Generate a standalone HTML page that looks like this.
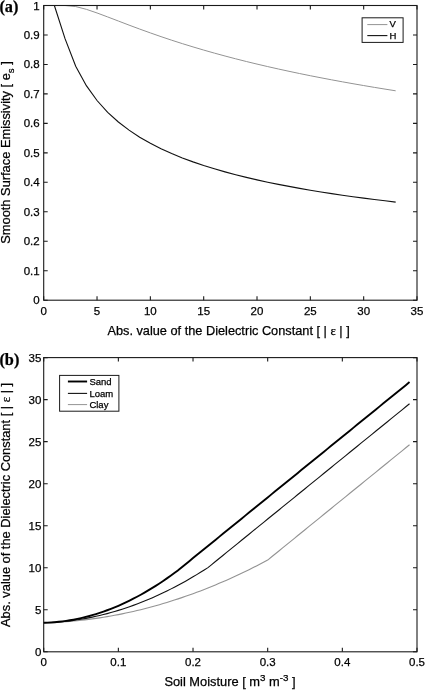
<!DOCTYPE html><html><head><meta charset="utf-8"><style>html,body{margin:0;padding:0;background:#fff;width:425px;height:690px;overflow:hidden}svg{display:block;will-change:transform}text{font-family:"Liberation Sans",sans-serif;fill:#000;stroke:#000;stroke-width:0.25px}</style></head><body>
<svg width="425" height="690" viewBox="0 0 425 690">
<polyline fill="none" stroke="#939393" stroke-width="1" points="54.37,5.50 65.03,5.50 75.70,6.56 86.36,9.33 97.03,12.96 107.69,16.94 118.36,21.03 129.03,25.10 139.69,29.07 150.36,32.92 161.02,36.64 171.69,40.21 182.35,43.63 193.02,46.92 203.69,50.07 214.35,53.10 225.02,56.01 235.68,58.81 246.35,61.50 257.01,64.09 267.68,66.58 278.35,68.99 289.01,71.31 299.68,73.55 310.34,75.72 321.01,77.81 331.67,79.84 342.34,81.81 353.01,83.71 363.67,85.56 374.34,87.36 385.00,89.10 395.67,90.80"/>
<polyline fill="none" stroke="#111" stroke-width="1.1" points="54.37,5.50 65.03,38.68 75.70,66.15 86.36,85.69 97.03,100.51 107.69,112.29 118.36,121.97 129.03,130.14 139.69,137.16 150.36,143.30 161.02,148.72 171.69,153.56 182.35,157.92 193.02,161.88 203.69,165.50 214.35,168.82 225.02,171.89 235.68,174.73 246.35,177.38 257.01,179.86 267.68,182.18 278.35,184.36 289.01,186.41 299.68,188.36 310.34,190.19 321.01,191.94 331.67,193.60 342.34,195.17 353.01,196.68 363.67,198.12 374.34,199.50 385.00,200.82 395.67,202.08"/>
<rect x="43.7" y="5.5" width="373.30" height="294.70" fill="none" stroke="#1a1a1a" stroke-width="1.1"/>
<path d="M43.70,300.20v-4M43.70,5.50v4M97.03,300.20v-4M97.03,5.50v4M150.36,300.20v-4M150.36,5.50v4M203.69,300.20v-4M203.69,5.50v4M257.01,300.20v-4M257.01,5.50v4M310.34,300.20v-4M310.34,5.50v4M363.67,300.20v-4M363.67,5.50v4M417.00,300.20v-4M417.00,5.50v4M43.70,300.20h4M417.00,300.20h-4M43.70,270.73h4M417.00,270.73h-4M43.70,241.26h4M417.00,241.26h-4M43.70,211.79h4M417.00,211.79h-4M43.70,182.32h4M417.00,182.32h-4M43.70,152.85h4M417.00,152.85h-4M43.70,123.38h4M417.00,123.38h-4M43.70,93.91h4M417.00,93.91h-4M43.70,64.44h4M417.00,64.44h-4M43.70,34.97h4M417.00,34.97h-4M43.70,5.50h4M417.00,5.50h-4" stroke="#1a1a1a" stroke-width="1.1" fill="none"/>
<text x="43.70" y="315.00" font-size="11.5" text-anchor="middle">0</text>
<text x="97.03" y="315.00" font-size="11.5" text-anchor="middle">5</text>
<text x="150.36" y="315.00" font-size="11.5" text-anchor="middle">10</text>
<text x="203.69" y="315.00" font-size="11.5" text-anchor="middle">15</text>
<text x="257.01" y="315.00" font-size="11.5" text-anchor="middle">20</text>
<text x="310.34" y="315.00" font-size="11.5" text-anchor="middle">25</text>
<text x="363.67" y="315.00" font-size="11.5" text-anchor="middle">30</text>
<text x="417.00" y="315.00" font-size="11.5" text-anchor="middle">35</text>
<text x="39.70" y="304.20" font-size="11.5" text-anchor="end">0</text>
<text x="39.70" y="274.73" font-size="11.5" text-anchor="end">0.1</text>
<text x="39.70" y="245.26" font-size="11.5" text-anchor="end">0.2</text>
<text x="39.70" y="215.79" font-size="11.5" text-anchor="end">0.3</text>
<text x="39.70" y="186.32" font-size="11.5" text-anchor="end">0.4</text>
<text x="39.70" y="156.85" font-size="11.5" text-anchor="end">0.5</text>
<text x="39.70" y="127.38" font-size="11.5" text-anchor="end">0.6</text>
<text x="39.70" y="97.91" font-size="11.5" text-anchor="end">0.7</text>
<text x="39.70" y="68.44" font-size="11.5" text-anchor="end">0.8</text>
<text x="39.70" y="38.97" font-size="11.5" text-anchor="end">0.9</text>
<text x="39.70" y="9.50" font-size="11.5" text-anchor="end">1</text>
<text x="228.6" y="334.8" font-size="12.75" text-anchor="middle">Abs. value of the Dielectric Constant [ | <tspan font-family="Liberation Serif">ε</tspan> | ]</text>
<text transform="translate(10.0,152.5) rotate(-90)" font-size="12.85" text-anchor="middle">Smooth Surface Emissivity [ e<tspan font-size="9.6" dy="4.2">s</tspan><tspan dy="-4.2"> ]</tspan></text>
<rect x="362.1" y="17.8" width="41" height="24.6" fill="#fff" stroke="#1a1a1a" stroke-width="1"/>
<path d="M367.3,24.6H387.4" stroke="#939393" stroke-width="1"/>
<path d="M367.3,35.6H387.4" stroke="#111" stroke-width="1.1"/>
<text x="389.6" y="27.4" font-size="9.5">V</text>
<text x="389.6" y="39.1" font-size="9.5">H</text>
<text x="-0.6" y="11.7" font-size="16.3" font-family="Liberation Serif" font-weight="bold" style="font-family:'Liberation Serif',serif">(a)</text>
<polyline fill="none" stroke="#939393" stroke-width="1.1" stroke-linejoin="round" points="43.70,622.80 47.43,622.69 51.17,622.55 54.90,622.38 58.63,622.18 62.37,621.94 66.10,621.67 69.83,621.37 73.56,621.04 77.30,620.68 81.03,620.29 84.76,619.86 88.50,619.40 92.23,618.91 95.96,618.39 99.69,617.84 103.43,617.25 107.16,616.64 110.89,615.99 114.63,615.31 118.36,614.60 122.09,613.85 125.83,613.08 129.56,612.27 133.29,611.43 137.03,610.56 140.76,609.66 144.49,608.72 148.22,607.76 151.96,606.76 155.69,605.73 159.42,604.67 163.16,603.57 166.89,602.45 170.62,601.29 174.36,600.10 178.09,598.88 181.82,597.63 185.55,596.35 189.29,595.03 193.02,593.68 196.75,592.30 200.49,590.89 204.22,589.45 207.95,587.98 211.69,586.47 215.42,584.93 219.15,583.36 222.88,581.76 226.62,580.13 230.35,578.46 234.08,576.76 237.82,575.03 241.55,573.27 245.28,571.48 249.02,569.66 252.75,567.80 256.48,565.91 260.21,563.99 263.95,562.04 267.68,560.06 271.41,557.03 275.15,553.99 278.88,550.96 282.61,547.92 286.35,544.89 290.08,541.85 293.81,538.82 297.54,535.78 301.28,532.75 305.01,529.72 308.74,526.68 312.48,523.65 316.21,520.61 319.94,517.58 323.68,514.54 327.41,511.51 331.14,508.47 334.87,505.44 338.61,502.41 342.34,499.37 346.07,496.34 349.81,493.30 353.54,490.27 357.27,487.23 361.00,484.20 364.74,481.16 368.47,478.13 372.20,475.10 375.94,472.06 379.67,469.03 383.40,465.99 387.14,462.96 390.87,459.92 394.60,456.89 398.33,453.85 402.07,450.82 405.80,447.78 409.53,444.75"/>
<polyline fill="none" stroke="#111" stroke-width="1.1" stroke-linejoin="round" points="43.70,622.80 47.43,622.68 51.17,622.51 54.90,622.29 58.63,622.01 62.37,621.68 66.10,621.29 69.83,620.86 73.56,620.37 77.30,619.83 81.03,619.23 84.76,618.59 88.50,617.89 92.23,617.13 95.96,616.33 99.69,615.47 103.43,614.56 107.16,613.60 110.89,612.58 114.63,611.51 118.36,610.39 122.09,609.21 125.83,607.98 129.56,606.70 133.29,605.37 137.03,603.98 140.76,602.54 144.49,601.05 148.22,599.50 151.96,597.91 155.69,596.26 159.42,594.55 163.16,592.80 166.89,590.99 170.62,589.13 174.36,587.21 178.09,585.24 181.82,583.22 185.55,581.15 189.29,579.02 193.02,576.84 196.75,574.61 200.49,572.33 204.22,569.99 207.95,567.60 211.69,564.57 215.42,561.53 219.15,558.50 222.88,555.46 226.62,552.43 230.35,549.39 234.08,546.36 237.82,543.32 241.55,540.29 245.28,537.26 249.02,534.22 252.75,531.19 256.48,528.15 260.21,525.12 263.95,522.08 267.68,519.05 271.41,516.01 275.15,512.98 278.88,509.95 282.61,506.91 286.35,503.88 290.08,500.84 293.81,497.81 297.54,494.77 301.28,491.74 305.01,488.70 308.74,485.67 312.48,482.63 316.21,479.60 319.94,476.57 323.68,473.53 327.41,470.50 331.14,467.46 334.87,464.43 338.61,461.39 342.34,458.36 346.07,455.32 349.81,452.29 353.54,449.26 357.27,446.22 361.00,443.19 364.74,440.15 368.47,437.12 372.20,434.08 375.94,431.05 379.67,428.01 383.40,424.98 387.14,421.95 390.87,418.91 394.60,415.88 398.33,412.84 402.07,409.81 405.80,406.77 409.53,403.74"/>
<polyline fill="none" stroke="#000" stroke-width="1.9" stroke-linejoin="round" points="43.70,622.80 47.43,622.67 51.17,622.46 54.90,622.18 58.63,621.82 62.37,621.39 66.10,620.88 69.83,620.29 73.56,619.63 77.30,618.89 81.03,618.08 84.76,617.19 88.50,616.22 92.23,615.18 95.96,614.06 99.69,612.87 103.43,611.60 107.16,610.25 110.89,608.83 114.63,607.33 118.36,605.76 122.09,604.11 125.83,602.39 129.56,600.59 133.29,598.71 137.03,596.75 140.76,594.73 144.49,592.62 148.22,590.44 151.96,588.18 155.69,585.85 159.42,583.44 163.16,580.96 166.89,578.40 170.62,575.76 174.36,573.05 177.86,570.43 178.09,570.24 181.82,567.21 185.55,564.18 189.29,561.14 193.02,558.11 196.75,555.07 200.49,552.04 204.22,549.00 207.95,545.97 211.69,542.93 215.42,539.90 219.15,536.87 222.88,533.83 226.62,530.80 230.35,527.76 234.08,524.73 237.82,521.69 241.55,518.66 245.28,515.62 249.02,512.59 252.75,509.56 256.48,506.52 260.21,503.49 263.95,500.45 267.68,497.42 271.41,494.38 275.15,491.35 278.88,488.31 282.61,485.28 286.35,482.24 290.08,479.21 293.81,476.18 297.54,473.14 301.28,470.11 305.01,467.07 308.74,464.04 312.48,461.00 316.21,457.97 319.94,454.93 323.68,451.90 327.41,448.87 331.14,445.83 334.87,442.80 338.61,439.76 342.34,436.73 346.07,433.69 349.81,430.66 353.54,427.62 357.27,424.59 361.00,421.56 364.74,418.52 368.47,415.49 372.20,412.45 375.94,409.42 379.67,406.38 383.40,403.35 387.14,400.31 390.87,397.28 394.60,394.25 398.33,391.21 402.07,388.18 405.80,385.14 409.53,382.11"/>
<rect x="43.7" y="357.6" width="373.30" height="294.20" fill="none" stroke="#1a1a1a" stroke-width="1.1"/>
<path d="M43.70,651.80v-4M43.70,357.60v4M118.36,651.80v-4M118.36,357.60v4M193.02,651.80v-4M193.02,357.60v4M267.68,651.80v-4M267.68,357.60v4M342.34,651.80v-4M342.34,357.60v4M417.00,651.80v-4M417.00,357.60v4M43.70,651.80h4M417.00,651.80h-4M43.70,609.77h4M417.00,609.77h-4M43.70,567.74h4M417.00,567.74h-4M43.70,525.71h4M417.00,525.71h-4M43.70,483.69h4M417.00,483.69h-4M43.70,441.66h4M417.00,441.66h-4M43.70,399.63h4M417.00,399.63h-4M43.70,357.60h4M417.00,357.60h-4" stroke="#1a1a1a" stroke-width="1.1" fill="none"/>
<text x="43.70" y="665.50" font-size="11.5" text-anchor="middle">0</text>
<text x="118.36" y="665.50" font-size="11.5" text-anchor="middle">0.1</text>
<text x="193.02" y="665.50" font-size="11.5" text-anchor="middle">0.2</text>
<text x="267.68" y="665.50" font-size="11.5" text-anchor="middle">0.3</text>
<text x="342.34" y="665.50" font-size="11.5" text-anchor="middle">0.4</text>
<text x="417.00" y="665.50" font-size="11.5" text-anchor="middle">0.5</text>
<text x="41.30" y="655.80" font-size="11.5" text-anchor="end">0</text>
<text x="41.30" y="613.77" font-size="11.5" text-anchor="end">5</text>
<text x="41.30" y="571.74" font-size="11.5" text-anchor="end">10</text>
<text x="41.30" y="529.71" font-size="11.5" text-anchor="end">15</text>
<text x="41.30" y="487.69" font-size="11.5" text-anchor="end">20</text>
<text x="41.30" y="445.66" font-size="11.5" text-anchor="end">25</text>
<text x="41.30" y="403.63" font-size="11.5" text-anchor="end">30</text>
<text x="41.30" y="361.60" font-size="11.5" text-anchor="end">35</text>
<text x="230" y="686" font-size="12.85" text-anchor="middle">Soil Moisture [ m<tspan font-size="9.8" dy="-4.6">3</tspan><tspan dy="4.6"> m</tspan><tspan font-size="9.8" dy="-4.6">-3</tspan><tspan dy="4.6"> ]</tspan></text>
<text transform="translate(10.1,504.9) rotate(-90)" font-size="12.85" text-anchor="middle">Abs. value of the Dielectric Constant [ | <tspan font-family="Liberation Serif">ε</tspan> | ]</text>
<rect x="59.6" y="375.4" width="59.3" height="35.8" fill="#fff" stroke="#1a1a1a" stroke-width="1"/>
<path d="M67.9,381.5H87.1" stroke="#000" stroke-width="1.9"/>
<path d="M67.9,393.4H87.1" stroke="#111" stroke-width="1.1"/>
<path d="M67.9,404.6H87.1" stroke="#939393" stroke-width="1"/>
<text x="89.4" y="384.8" font-size="9.5">Sand</text>
<text x="89.4" y="396.7" font-size="9.5">Loam</text>
<text x="89.4" y="408.0" font-size="9.5">Clay</text>
<text x="-0.6" y="364.5" font-size="16.3" font-weight="bold" style="font-family:'Liberation Serif',serif">(b)</text>
</svg></body></html>
